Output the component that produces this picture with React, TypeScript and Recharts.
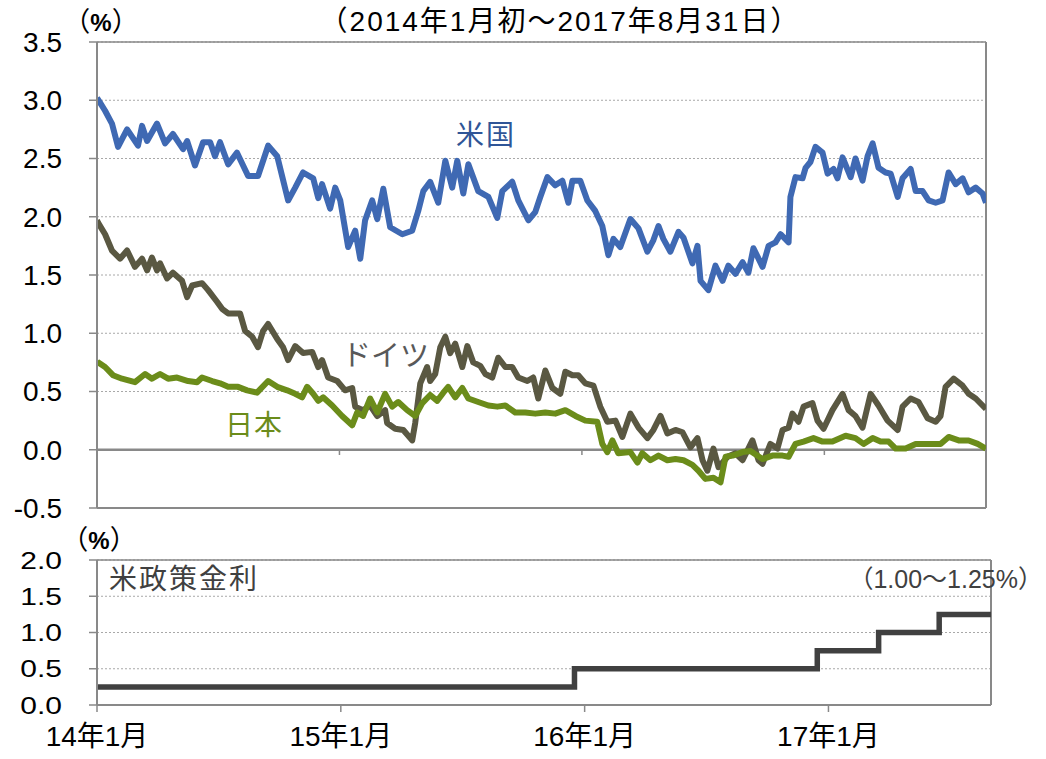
import React from 'react';
import { LineChart, Line, XAxis, YAxis, CartesianGrid, ReferenceLine } from 'recharts';

// x values are months since the start of Jan 2014
const usYield: [number, number][] = [
  [0, 3.02], [0.15, 2.98], [0.4, 2.91], [0.74, 2.8], [1.04, 2.6], [1.49, 2.75], [2.03, 2.61], [2.23, 2.78],
  [2.48, 2.65], [2.97, 2.8], [3.37, 2.63], [3.76, 2.71], [4.26, 2.58], [4.46, 2.65], [4.85, 2.44], [5.25, 2.64],
  [5.6, 2.64], [5.84, 2.52], [6.09, 2.64], [6.49, 2.45], [6.93, 2.55], [7.48, 2.35], [7.97, 2.35], [8.47, 2.61],
  [8.92, 2.52], [9.46, 2.14], [9.81, 2.25], [10.2, 2.38], [10.7, 2.33], [10.95, 2.16], [11.14, 2.28], [11.54, 2.07],
  [11.79, 2.25], [12.04, 2.14], [12.43, 1.74], [12.78, 1.88], [13.03, 1.64], [13.27, 1.97], [13.62, 2.14], [13.87, 1.98],
  [14.17, 2.24], [14.51, 1.91], [15.11, 1.85], [15.6, 1.88], [15.9, 2.05], [16.15, 2.22], [16.49, 2.3], [16.89, 2.12],
  [17.24, 2.48], [17.58, 2.25], [17.83, 2.48], [18.13, 2.2], [18.38, 2.45], [18.87, 2.22], [19.37, 2.17], [19.81, 1.99],
  [20.06, 2.22], [20.55, 2.3], [20.85, 2.14], [21.35, 1.97], [21.69, 2.04], [21.94, 2.17], [22.29, 2.34], [22.68, 2.27],
  [23.03, 2.31], [23.33, 2.12], [23.53, 2.31], [23.92, 2.31], [24.27, 2.14], [24.66, 2.05], [25.01, 1.92], [25.31, 1.67],
  [25.56, 1.81], [25.9, 1.74], [26.4, 1.98], [26.8, 1.9], [27.24, 1.7], [27.54, 1.8], [27.79, 1.92], [28.03, 1.81],
  [28.38, 1.7], [28.78, 1.87], [29.03, 1.82], [29.47, 1.6], [29.72, 1.75], [29.87, 1.45], [30.26, 1.37], [30.61, 1.58],
  [30.96, 1.45], [31.25, 1.58], [31.6, 1.51], [31.95, 1.61], [32.24, 1.52], [32.49, 1.73], [32.94, 1.57], [33.24, 1.75],
  [33.58, 1.78], [33.83, 1.85], [34.23, 1.78], [34.32, 2.17], [34.57, 2.34], [34.92, 2.33], [35.07, 2.42], [35.31, 2.47],
  [35.56, 2.6], [35.91, 2.55], [36.16, 2.37], [36.45, 2.41], [36.65, 2.33], [36.9, 2.51], [37.3, 2.34], [37.54, 2.5],
  [37.89, 2.31], [38.14, 2.52], [38.39, 2.63], [38.68, 2.42], [39.03, 2.38], [39.28, 2.37], [39.63, 2.17], [39.87, 2.33],
  [40.27, 2.41], [40.52, 2.22], [40.86, 2.22], [41.16, 2.14], [41.51, 2.12], [41.85, 2.14], [42.15, 2.38], [42.5, 2.28],
  [42.84, 2.33], [43.14, 2.21], [43.49, 2.25], [43.83, 2.2], [44, 2.12],
];

const germanyYield: [number, number][] = [
  [0, 1.97], [0.05, 1.95], [0.4, 1.85], [0.74, 1.71], [1.14, 1.64], [1.49, 1.71], [1.88, 1.57], [2.23, 1.64],
  [2.48, 1.54], [2.72, 1.65], [2.97, 1.54], [3.12, 1.6], [3.47, 1.47], [3.76, 1.52], [4.21, 1.45], [4.46, 1.31],
  [4.71, 1.41], [5.2, 1.43], [5.5, 1.37], [5.94, 1.27], [6.19, 1.21], [6.49, 1.17], [7.08, 1.17], [7.33, 1.02],
  [7.68, 0.97], [7.97, 0.88], [8.22, 1.02], [8.47, 1.08], [8.92, 0.95], [9.21, 0.88], [9.46, 0.77], [9.81, 0.89],
  [10.2, 0.83], [10.65, 0.84], [10.95, 0.71], [11.14, 0.77], [11.44, 0.62], [11.89, 0.59], [12.28, 0.51], [12.63, 0.53],
  [12.78, 0.37], [13.17, 0.34], [13.52, 0.38], [13.87, 0.29], [14.26, 0.34], [14.36, 0.23], [14.76, 0.18], [15.16, 0.17],
  [15.6, 0.08], [15.75, 0.23], [16.0, 0.57], [16.34, 0.71], [16.49, 0.59], [16.74, 0.65], [16.99, 0.88], [17.24, 0.97],
  [17.48, 0.83], [17.73, 0.91], [18.08, 0.71], [18.33, 0.89], [18.62, 0.75], [18.97, 0.72], [19.22, 0.65], [19.56, 0.62],
  [19.86, 0.79], [20.21, 0.71], [20.55, 0.71], [20.85, 0.62], [21.3, 0.59], [21.59, 0.62], [21.84, 0.44], [22.19, 0.68],
  [22.54, 0.53], [22.93, 0.48], [23.18, 0.67], [23.53, 0.64], [23.82, 0.64], [24.17, 0.57], [24.57, 0.55], [24.91, 0.37],
  [25.26, 0.24], [25.66, 0.25], [26.0, 0.11], [26.4, 0.31], [26.8, 0.19], [27.24, 0.1], [27.54, 0.17], [27.89, 0.29],
  [28.23, 0.14], [28.63, 0.17], [28.98, 0.15], [29.37, 0.02], [29.72, 0.1], [29.97, -0.09], [30.21, -0.18], [30.51, 0.01],
  [30.76, -0.15], [31.21, -0.06], [31.6, -0.03], [31.95, -0.09], [32.44, 0.08], [32.74, -0.09], [32.94, -0.12], [33.33, 0.05],
  [33.68, 0.01], [33.93, 0.17], [34.23, 0.19], [34.42, 0.31], [34.72, 0.24], [34.97, 0.37], [35.41, 0.4], [35.66, 0.25],
  [35.96, 0.18], [36.4, 0.34], [36.9, 0.48], [37.2, 0.34], [37.54, 0.29], [37.89, 0.19], [38.29, 0.48], [38.68, 0.38],
  [39.13, 0.25], [39.63, 0.17], [39.87, 0.37], [40.27, 0.44], [40.66, 0.41], [41.11, 0.27], [41.51, 0.24], [41.75, 0.29],
  [42.0, 0.54], [42.4, 0.61], [42.84, 0.55], [43.14, 0.48], [43.49, 0.44], [44, 0.35],
];

const japanYield: [number, number][] = [
  [0, 0.76], [0.05, 0.75], [0.4, 0.71], [0.79, 0.64], [1.24, 0.61], [1.88, 0.58], [2.38, 0.65], [2.72, 0.61],
  [3.12, 0.65], [3.52, 0.61], [3.96, 0.62], [4.51, 0.59], [4.95, 0.58], [5.2, 0.62], [5.7, 0.59], [6.09, 0.57],
  [6.49, 0.54], [6.98, 0.54], [7.43, 0.51], [7.92, 0.49], [8.47, 0.59], [8.92, 0.54], [9.41, 0.51], [9.81, 0.48],
  [10.15, 0.45], [10.4, 0.54], [10.7, 0.48], [10.95, 0.42], [11.19, 0.45], [11.64, 0.38], [12.13, 0.29], [12.63, 0.21],
  [12.88, 0.32], [13.17, 0.29], [13.52, 0.44], [13.87, 0.32], [14.26, 0.48], [14.61, 0.37], [14.91, 0.41], [15.35, 0.34],
  [15.75, 0.29], [16.1, 0.4], [16.49, 0.47], [16.84, 0.42], [17.14, 0.49], [17.38, 0.54], [17.73, 0.45], [18.08, 0.53],
  [18.38, 0.44], [18.87, 0.41], [19.37, 0.38], [19.81, 0.37], [20.21, 0.38], [20.7, 0.32], [21.2, 0.32], [21.69, 0.31],
  [22.19, 0.32], [22.68, 0.31], [23.18, 0.34], [23.68, 0.29], [24.17, 0.25], [24.76, 0.24], [25.01, 0.05], [25.26, -0.02],
  [25.51, 0.08], [25.8, -0.03], [26.4, -0.02], [26.75, -0.11], [26.99, -0.03], [27.39, -0.09], [27.79, -0.05], [28.23, -0.09],
  [28.63, -0.08], [29.03, -0.09], [29.47, -0.13], [29.77, -0.18], [30.11, -0.25], [30.51, -0.24], [30.86, -0.28], [31.11, -0.06],
  [31.46, -0.05], [31.95, -0.02], [32.34, -0.01], [32.94, -0.08], [33.43, -0.05], [33.93, -0.05], [34.23, -0.06], [34.57, 0.05],
  [34.97, 0.07], [35.46, 0.1], [35.91, 0.07], [36.4, 0.07], [37.05, 0.12], [37.54, 0.1], [37.94, 0.05], [38.39, 0.1],
  [38.78, 0.07], [39.18, 0.07], [39.53, 0.01], [40.02, 0.01], [40.52, 0.05], [41.01, 0.05], [41.75, 0.05], [42.15, 0.11],
  [42.65, 0.08], [43.14, 0.08], [43.59, 0.05], [44, 0.01],
];

// US policy rate (upper bound of target range), step changes
const policyRate: [number, number][] = [
  [0, 0.25], [23.5, 0.5], [35.45, 0.75], [38.47, 1.0], [41.45, 1.25], [44, 1.25],
];

const xTickMonths = [0, 12, 24, 36];
const xTickLabels = ['14年1月', '15年1月', '16年1月', '17年1月'];
const topTicks = [-0.5, 0, 0.5, 1, 1.5, 2, 2.5, 3, 3.5];
const bottomTicks = [0, 0.5, 1, 1.5, 2];

const toRows = (pts: [number, number][]) => pts.map(([t, v]) => ({ t, v }));

const FONT = "'Liberation Sans', Arial, 'Noto Sans CJK JP', sans-serif";
const AXIS = '#898989';
const GRID = '#a8a8a8';

const SquishTick = ({ x, y, payload }: any) => (
  <text
    x={x}
    y={y}
    textAnchor="end"
    fontSize={30}
    fontFamily={FONT}
    fill="#000"
    dy="0.36em"
    transform={`translate(0,${y}) scale(1,0.8) translate(0,${-y})`}
  >
    {Number(payload.value).toFixed(1)}
  </text>
);

export default function App() {
  return (
    <div style={{ position: 'absolute', left: 0, top: 0, width: 1046, height: 759, background: '#fff', fontFamily: FONT }}>
      <div style={{ position: 'absolute', left: 0, top: 0 }}>
        <LineChart width={1046} height={530} margin={{ top: 42, right: 60, bottom: 22, left: 37 }}>
          <CartesianGrid vertical={false} stroke={GRID} strokeDasharray="2 2" />
          <XAxis type="number" dataKey="t" domain={[0, 44]} hide allowDataOverflow />
          <YAxis
            type="number"
            domain={[-0.5, 3.5]}
            ticks={topTicks}
            interval={0}
            width={60}
            tickFormatter={(v: number) => v.toFixed(1)}
            axisLine={{ stroke: AXIS, strokeWidth: 2 }}
            tickLine={{ stroke: AXIS, strokeWidth: 1.5 }}
            tickSize={8}
            tickMargin={27}
            tick={{ fontSize: 28, fill: '#000', fontFamily: FONT }}
          />
          <ReferenceLine y={3.5} stroke={AXIS} strokeWidth={1.5} />
          <ReferenceLine y={-0.5} stroke={AXIS} strokeWidth={2} />
          <ReferenceLine x={44} stroke={AXIS} strokeWidth={2} />
          <ReferenceLine y={0} stroke={AXIS} strokeWidth={2.5} />
          {xTickMonths.slice(1).map((m) => (
            <ReferenceLine key={m} segment={[{ x: m, y: 0 }, { x: m, y: -0.045 }]} stroke={AXIS} strokeWidth={1.5} />
          ))}
          <Line data={toRows(usYield)} dataKey="v" type="linear" stroke="#3F69B3" strokeWidth={6} strokeLinejoin="round" dot={false} isAnimationActive={false} />
          <Line data={toRows(germanyYield)} dataKey="v" type="linear" stroke="#5A5842" strokeWidth={6} strokeLinejoin="round" dot={false} isAnimationActive={false} />
          <Line data={toRows(japanYield)} dataKey="v" type="linear" stroke="#6B8C1A" strokeWidth={6} strokeLinejoin="round" dot={false} isAnimationActive={false} />
        </LineChart>
      </div>

      <div style={{ position: 'absolute', left: 0, top: 520 }}>
        <LineChart width={1046} height={240} margin={{ top: 40, right: 55, bottom: 5, left: 37 }}>
          <CartesianGrid vertical={false} stroke={GRID} strokeDasharray="2 2" />
          <XAxis
            type="number"
            dataKey="t"
            domain={[0, 44]}
            ticks={xTickMonths}
            interval={0}
            height={50}
            tickFormatter={(v: number) => xTickLabels[xTickMonths.indexOf(v)]}
            axisLine={{ stroke: AXIS, strokeWidth: 2 }}
            tickLine={{ stroke: AXIS, strokeWidth: 1.5 }}
            tickSize={7}
            tickMargin={14}
            tick={{ fontSize: 28, fill: '#000', fontFamily: FONT }}
          />
          <YAxis
            type="number"
            domain={[0, 2]}
            ticks={bottomTicks}
            interval={0}
            width={60}
            axisLine={{ stroke: AXIS, strokeWidth: 2 }}
            tickLine={{ stroke: AXIS, strokeWidth: 1.5 }}
            tickSize={8}
            tickMargin={27}
            tick={<SquishTick />}
          />
          <ReferenceLine y={2} stroke={AXIS} strokeWidth={1.5} />
          <ReferenceLine x={44} stroke={AXIS} strokeWidth={2} />
          <Line data={toRows(policyRate)} dataKey="v" type="stepAfter" stroke="#404040" strokeWidth={5.5} dot={false} isAnimationActive={false} />
        </LineChart>
      </div>

      <svg width={1046} height={759} style={{ position: 'absolute', left: 0, top: 0, pointerEvents: 'none' }}>
        <text x={101} y={31} textAnchor="middle" fontSize={27} fill="#000">（<tspan fontWeight="bold" fontSize={24}>%</tspan>）</text>
        <text x={560} y={31} textAnchor="middle" fontSize={28} fill="#000" letterSpacing={2}>（2014年1月初～2017年8月31日）</text>
        <text x={456} y={145} fontSize={28} fill="#2F5597" letterSpacing={2}>米国</text>
        <text x={342} y={366} fontSize={29} fill="#595959">ドイツ</text>
        <text x={225} y={435} fontSize={28} fill="#6B8C1A" letterSpacing={1}>日本</text>
        <text x={99} y={549} textAnchor="middle" fontSize={27} fill="#000">（<tspan fontWeight="bold" fontSize={24}>%</tspan>）</text>
        <text x={109} y={589} fontSize={28} fill="#404040" letterSpacing={2}>米政策金利</text>
        <text x={1043} y={588} textAnchor="end" fontSize={25} fill="#404040">（1.00～1.25%）</text>
      </svg>
    </div>
  );
}
